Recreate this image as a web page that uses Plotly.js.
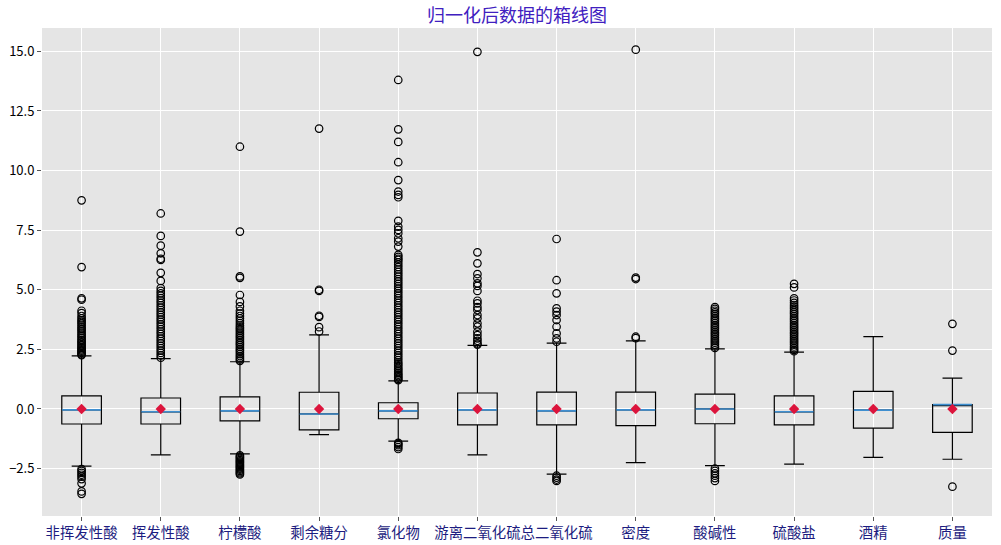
<!DOCTYPE html>
<html>
<head>
<meta charset="utf-8">
<script src="https://cdn.plot.ly/plotly-3.0.1.min.js"></script>
<style>html,body{margin:0;padding:0;background:#fff;}#chart{width:1001px;height:545px;}</style>
</head>
<body>
<div id="chart"></div>
<script>
// ---- data ----
const categories = ["非挥发性酸","挥发性酸","柠檬酸","剩余糖分","氯化物","游离二氧化硫","总二氧化硫","密度","酸碱性","硫酸盐","酒精","质量"];
const q1Values     = [-0.63,-0.63,-0.50,-0.88,-0.41,-0.67,-0.67,-0.70,-0.62,-0.67,-0.80,-0.98];
const medianValues = [-0.04,-0.12,-0.08,-0.21,-0.08,-0.04,-0.08,-0.04, 0.00,-0.12,-0.05, 0.18];
const q3Values     = [ 0.55, 0.46, 0.51, 0.70, 0.26, 0.67, 0.71, 0.71, 0.62, 0.55, 0.74, 0.18];
const lowerWhisker = [-2.40,-1.93,-1.88,-1.08,-1.35,-1.93,-2.73,-2.25,-2.38,-2.31,-2.03,-2.11];
const upperWhisker = [ 2.23, 2.11, 1.98, 3.11, 1.18, 2.67, 2.76, 2.86, 2.52, 2.38, 3.03, 1.29];
const meanValues   = [0,0,0,0,0,0,0,0,0,0,0,0];

const outliers_非挥发性酸 = [8.75,5.95,4.64,4.58,4.12,4.02,3.9,3.8,3.72,3.65,3.58,3.5,3.42,3.35,3.28,3.2,3.12,3.05,2.98,2.9,2.84,2.78,2.72,2.66,2.6,2.55,2.5,2.45,2.4,2.35,2.3,2.26,
  -2.52,-2.6,-2.68,-2.76,-2.84,-2.94,-3.12,-3.46,-3.56];
const outliers_挥发性酸 = [8.2,7.26,6.85,6.53,6.3,6.25,5.71,5.37,5.07,4.95,4.85,4.75,4.65,4.55,4.45,4.35,4.25,4.15,4.05,3.95,3.85,3.75,3.65,3.55,3.45,3.35,3.25,3.15,3.05,2.95,2.85,2.75,2.65,2.55,2.45,2.35,2.25,2.15];
const outliers_柠檬酸 = [11.0,7.44,5.56,5.5,4.78,4.49,4.3,4.12,4.0,3.9,3.8,3.7,3.6,3.5,3.42,3.35,3.28,3.2,3.12,3.05,2.98,2.9,2.82,2.75,2.68,2.6,2.52,2.45,2.38,2.3,2.22,2.15,2.08,2.02,
  -1.95,-2.0,-2.05,-2.1,-2.15,-2.2,-2.25,-2.3,-2.35,-2.4,-2.45,-2.5,-2.55,-2.6,-2.65,-2.7,-2.75];
const outliers_剩余糖分 = [11.76,5.0,4.95,3.91,3.86,3.43,3.25];
const outliers_氯化物 = [13.8,11.73,11.2,10.35,9.6,9.12,8.98,8.88,7.89,7.65,7.51,7.37,7.16,7.02,6.81,6.46,6.38,6.3,6.25,
  6.15,6.05,5.95,5.85,5.75,5.65,5.55,5.45,5.35,5.25,5.15,5.05,4.95,4.85,4.75,4.65,4.55,4.45,4.35,4.25,4.15,4.05,3.95,3.85,3.75,3.65,3.55,3.45,3.35,3.25,3.15,3.05,2.95,2.85,2.75,2.65,2.55,2.45,2.35,2.25,2.15,2.05,1.95,1.88,1.8,1.72,1.65,1.58,1.5,1.44,1.38,1.32,1.26,1.21,
  -1.42,-1.47,-1.52,-1.6,-1.68];
const outliers_游离二氧化硫 = [14.98,6.57,6.11,5.66,5.48,5.27,5.16,4.95,4.54,4.43,4.27,4.15,3.94,3.8,3.59,3.45,3.24,3.1,2.96,2.86,2.75,2.7];
const outliers_总二氧化硫 = [7.13,5.4,4.85,4.22,4.08,3.94,3.73,3.45,3.17,2.96,2.82,-2.8,-2.88,-2.96,-3.02];
const outliers_密度 = [15.07,5.51,5.45,3.03,2.97];
const outliers_酸碱性 = [4.27,4.2,4.12,4.05,3.98,3.9,3.82,3.75,3.68,3.6,3.52,3.45,3.38,3.3,3.22,3.15,3.08,3.0,2.92,2.85,2.78,2.7,2.62,2.56,
  -2.5,-2.6,-2.7,-2.8,-2.9,-3.02];
const outliers_硫酸盐 = [5.25,5.1,4.64,4.55,4.45,4.36,4.28,4.2,4.12,4.05,3.98,3.9,3.82,3.75,3.68,3.6,3.52,3.45,3.38,3.3,3.22,3.15,3.08,3.0,2.92,2.85,2.78,2.7,2.62,2.55,2.48,2.42];
const outliers_酒精 = [];
const outliers_质量 = [3.57,2.45,-3.26];
const outlierLists = [outliers_非挥发性酸,outliers_挥发性酸,outliers_柠檬酸,outliers_剩余糖分,outliers_氯化物,outliers_游离二氧化硫,outliers_总二氧化硫,outliers_密度,outliers_酸碱性,outliers_硫酸盐,outliers_酒精,outliers_质量];

// ---- build traces ----
const positions = categories.map((_, i) => i + 1);
const boxWidth = 0.5;

const boxTrace = {
  type: 'box',
  x: positions,
  q1: q1Values, median: medianValues, q3: q3Values,
  lowerfence: lowerWhisker, upperfence: upperWhisker,
  width: boxWidth,
  whiskerwidth: 0.5,
  boxpoints: false,
  line: {color: '#000000', width: 1.2},
  fillcolor: 'rgba(0,0,0,0)',
  hoverinfo: 'skip',
  showlegend: false
};

const medX = [], medY = [];
positions.forEach((p, i) => {
  medX.push(p - boxWidth / 2 + 0.004, p + boxWidth / 2 - 0.004, null);
  medY.push(medianValues[i], medianValues[i], null);
});
const medianTrace = {
  type: 'scatter', mode: 'lines', x: medX, y: medY,
  line: {color: '#3f8fd0', width: 1.6}, hoverinfo: 'skip', showlegend: false
};

const outX = [], outY = [];
outlierLists.forEach((list, i) => list.forEach(v => { outX.push(positions[i]); outY.push(v); }));
const outlierTrace = {
  type: 'scatter', mode: 'markers', x: outX, y: outY,
  marker: {symbol: 'circle-open', size: 7.5, color: '#000000', line: {width: 1.2}},
  hoverinfo: 'skip', showlegend: false
};

const meanTrace = {
  type: 'scatter', mode: 'markers', x: positions, y: meanValues,
  marker: {symbol: 'diamond', size: 8, color: '#dc143c'},
  hoverinfo: 'skip', showlegend: false
};

const cjk = '"Noto Sans CJK SC", "Noto Sans", sans-serif';
const layout = {
  width: 1001, height: 545,
  margin: {l: 42, r: 9, t: 28, b: 29},
  paper_bgcolor: '#ffffff',
  plot_bgcolor: '#E5E5E5',
  title: {text: '归一化后数据的箱线图', x: 0.5165, xanchor: 'center', y: 0.972, yanchor: 'middle',
          font: {family: cjk, size: 18, color: '#4020c0'}},
  showlegend: false,
  xaxis: {
    range: [0.5, 12.5], tickvals: positions, ticktext: categories, tickangle: 0,
    showgrid: true, gridcolor: '#ffffff', gridwidth: 1, zeroline: false,
    ticks: 'outside', ticklen: 4, tickcolor: '#555555', showline: false,
    tickfont: {family: cjk, size: 14.4, color: '#1c1c80'}
  },
  yaxis: {
    range: [-4.49, 15.98], tick0: 0, dtick: 2.5, tickformat: '.1f',
    showgrid: true, gridcolor: '#ffffff', gridwidth: 1, zeroline: false,
    ticks: 'outside', ticklen: 4, tickcolor: '#555555', showline: false,
    tickfont: {family: cjk, size: 13, color: '#000000'}
  }
};

Plotly.newPlot('chart', [boxTrace, medianTrace, outlierTrace, meanTrace], layout, {staticPlot: true, displayModeBar: false});
</script>
</body>
</html>
